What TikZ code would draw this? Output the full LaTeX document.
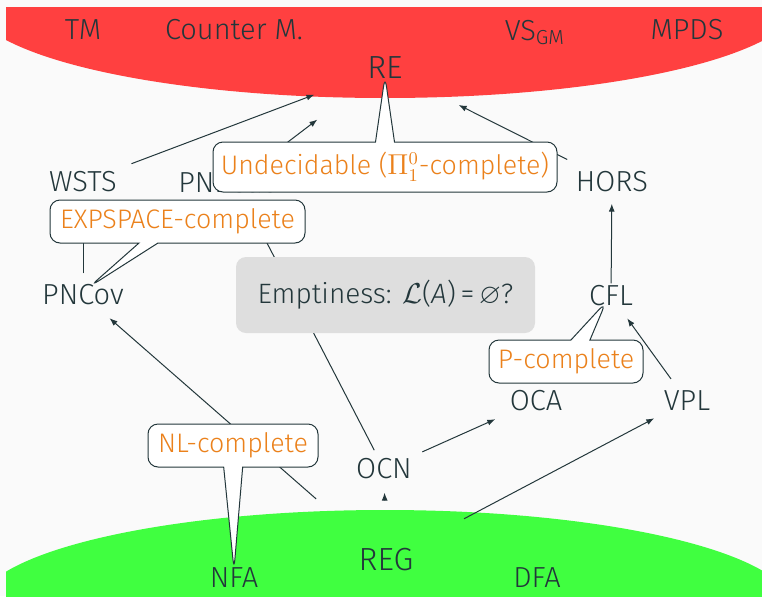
\documentclass[tikz,border=0pt]{standalone}
\usepackage{amssymb}
\usepackage{fontspec}
\setmainfont{Fira Sans Light}
\usetikzlibrary{arrows.meta, shapes.callouts}

\definecolor{bgcol}{HTML}{FAFAFA}
\definecolor{darkslate}{HTML}{23373B}
\definecolor{alertorange}{HTML}{EB811B}
\definecolor{undecred}{HTML}{FF4040}
\definecolor{decgreen}{HTML}{40FF40}
\definecolor{boxgray}{HTML}{DEDEDE}

\begin{document}
\begin{tikzpicture}[x=0.5pt, y=-0.5pt,
    lang/.style={text=darkslate, inner sep=1pt, font=\fontsize{14.5}{17}\selectfont},
    big lang/.style={lang, font=\fontsize{16}{19}\selectfont},
    incl/.style={-{Latex[length=4pt, width=3pt]}, draw=darkslate, line width=0.5pt},
    cplx/.style={rectangle callout, draw=darkslate, fill=white, line width=0.5pt,
                 rounded corners=5pt, text=alertorange, inner sep=0pt,
                 minimum height=21.5pt, callout pointer width=9.5pt,
                 font=\fontsize{13.4}{16}\selectfont}]

  \useasboundingbox (0,0) rectangle (762,596);
  \fill[bgcol] (0,0) rectangle (762,596);

  % undecidable top, regular bottom
  \begin{scope}
    \clip (6,7) rectangle (762,596);
    \fill[undecred] (385,0) ellipse [x radius=415, y radius=98];
    \fill[decgreen] (385,608) ellipse [x radius=408, y radius=98];
  \end{scope}

  % models
  \node[lang] (tm) at (83,30) {TM};
  \node[lang] (counter) at (234,30) {Counter M.};
  \node[lang, anchor=base] (vsgm) at (535,40) {VS\textsubscript{GM}};
  \node[lang] (mpds) at (687,30) {MPDS};
  \node[big lang] (re) at (385,68) {RE};

  \node[lang] (wsts) at (83,182) {WSTS};
  \node[lang, anchor=west] (pnreach) at (176,182) {PNReach};
  \node[lang] (hors) at (612,182) {HORS};

  \node[lang] (pncov) at (83,295) {PNCov};
  \node[lang] (cfl) at (611,296) {CFL};

  \node[lang] (oca) at (536,401) {OCA};
  \node[lang] (vpl) at (687,401) {VPL};
  \node[lang] (ocn) at (384,469) {OCN};

  \node[big lang] (reg) at (386,560) {REG};
  \node[lang] (nfa) at (234,578) {NFA};
  \node[lang] (dfa) at (537,578) {DFA};

  % inclusions
  \draw[incl, shorten <=8pt, shorten >=27pt] (wsts) -- (re);
  \draw[incl, shorten >=31.5pt] (pnreach) -- (re);
  \draw[incl, shorten <=11pt, shorten >=30pt] (hors) -- (re);
  \draw[incl, shorten >=4.5pt] (cfl) -- (hors);
  \draw[incl, shorten <=6pt, shorten >=6pt] (vpl) -- (cfl);
  \draw[incl, shorten <=36pt, shorten >=8pt] (reg) -- (pncov);
  \draw[incl, shorten <=23pt, shorten >=5.5pt] (reg) -- (ocn);
  \draw[incl, shorten <=29.5pt, shorten >=5.3pt] (reg) -- (vpl);
  \draw[incl, shorten <=5.5pt, shorten >=6.8pt] (ocn) -- (oca);
  \draw[incl, shorten <=3.5pt, shorten >=5pt] (ocn) -- (pnreach);
  \draw[incl, shorten <=4.5pt, shorten >=5pt] (pncov) -- (wsts);

  % the question
  \node[fill=boxgray, rounded corners=5pt, minimum width=149.5pt, minimum height=38pt,
        text=darkslate, font=\fontsize{14}{17}\selectfont] (question) at (385.5,295)
        {Emptiness: $\mathcal{L}$(\textit{A})\,=\,$\varnothing$?};

  % complexities
  \node[cplx, minimum width=172pt, minimum height=25pt,
        callout absolute pointer={([yshift=2.5pt]re.south)}] (undec) at (385,167)
        {Undecidable ($\Pi^0_1$-complete)};
  \node[cplx, minimum width=127.5pt,
        callout absolute pointer={([xshift=3.5pt, yshift=-2pt]pncov.north)}] (expspace) at (177.5,221.5)
        {EXPSPACE-complete};
  \node[cplx, minimum width=77pt,
        callout absolute pointer={([xshift=-2.5pt, yshift=-3pt]cfl.center)}] (ptime) at (566,361.5)
        {P-complete};
  \node[cplx, minimum width=85pt,
        callout absolute pointer={([yshift=-2pt]nfa.north)}] (nl) at (233,445.5)
        {NL-complete};
\end{tikzpicture}
\end{document}
